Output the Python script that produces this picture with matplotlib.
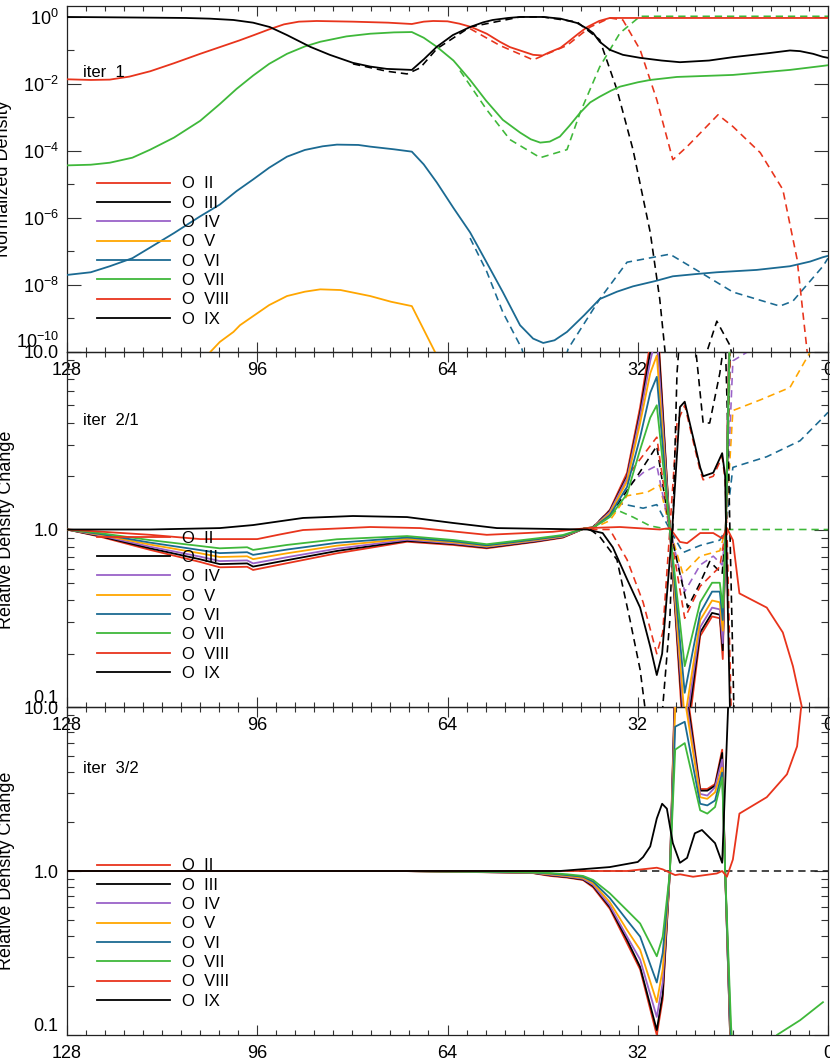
import numpy as np
import matplotlib
matplotlib.use("Agg")
import matplotlib.pyplot as plt
from matplotlib.lines import Line2D
from matplotlib.ticker import FixedLocator, MultipleLocator, LogLocator, NullFormatter

plt.rcParams['font.family'] = ['Liberation Sans', 'DejaVu Sans']
plt.rcParams['mathtext.fontset'] = 'custom'
plt.rcParams['mathtext.rm'] = 'Liberation Sans'
plt.rcParams['mathtext.it'] = 'Liberation Sans:italic'
plt.rcParams['mathtext.bf'] = 'Liberation Sans:bold'

# ---------------- legend / styling data ----------------
ion_labels = ['O  II', 'O  III', 'O  IV', 'O  V', 'O  VI', 'O  VII', 'O  VIII', 'O  IX']
RED, BLK, PUR, ORA, BLU, GRN = '#e8341c', '#000000', '#9a62c8', '#ffa600', '#1b6a92', '#3fb83a'
ion_colors = [RED, BLK, PUR, ORA, BLU, GRN, RED, BLK]

x_major = [128, 96, 64, 32, 0]

# ---------------- Panel 1 : iter 1, normalized density (log10 values) ----------------
p1_ix_x = [128.0, 120.8, 114.0, 108.0, 104.0, 100.0, 96.7, 93.9, 91.0, 87.1, 83.8, 79.9, 77.0, 74.2,
           70.0, 67.9, 65.8, 63.1, 60.2, 58.0, 56.4, 53.8, 51.8, 47.9, 45.0, 42.2, 40.5, 39.5, 38.4,
           36.7, 34.5, 31.6, 28.0, 24.9, 20.0, 16.0, 10.0, 6.4, 4.7, 2.5, 0.85, 0.0]
p1_ix_log = [0.0, -0.01, -0.02, -0.03, -0.05, -0.09, -0.17, -0.3, -0.54, -0.89, -1.13, -1.37, -1.48,
             -1.55, -1.58, -1.25, -0.89, -0.54, -0.3, -0.16, -0.09, -0.03, 0.0, 0.0, -0.05, -0.18,
             -0.35, -0.48, -0.74, -0.98, -1.13, -1.22, -1.3, -1.35, -1.3, -1.2, -1.08, -1.0, -1.02,
             -1.1, -1.19, -1.22]

p1_viii_x = [128.0, 124.0, 120.8, 117.5, 114.0, 110.0, 105.6, 102.3, 99.0, 96.7, 94.0, 91.5, 89.0,
             86.0, 79.9, 74.0, 70.0, 68.0, 66.4, 64.0, 62.0, 60.0, 57.4, 55.2, 53.5, 51.8, 49.6,
             48.0, 46.8, 45.0, 43.9, 42.0, 40.5, 38.5, 36.7, 32.8, 0.0]
p1_viii_log = [-1.86, -1.88, -1.87, -1.78, -1.62, -1.38, -1.1, -0.9, -0.7, -0.55, -0.37, -0.22, -0.14,
               -0.12, -0.14, -0.17, -0.21, -0.14, -0.12, -0.13, -0.2, -0.3, -0.5, -0.74, -0.9, -1.0,
               -1.13, -1.15, -1.05, -0.92, -0.77, -0.5, -0.3, -0.12, -0.03, -0.03, -0.03]

p1_vii_x = [128.0, 124.0, 120.8, 117.0, 114.0, 110.0, 105.6, 102.3, 99.5, 96.7, 94.0, 91.0, 88.0,
            85.4, 81.0, 77.0, 73.0, 70.0, 68.0, 65.8, 63.0, 60.2, 57.5, 54.7, 51.8, 50.0, 48.4,
            46.8, 45.1, 43.5, 41.7, 40.0, 38.4, 36.5, 35.0, 32.0, 29.9, 25.4, 16.0, 6.4, 0.85, 0.0]
p1_vii_log = [-4.43, -4.41, -4.35, -4.2, -3.96, -3.6, -3.1, -2.6, -2.15, -1.75, -1.4, -1.1, -0.88,
              -0.74, -0.58, -0.5, -0.46, -0.45, -0.62, -0.89, -1.3, -1.88, -2.5, -3.07, -3.45, -3.65,
              -3.75, -3.72, -3.57, -3.25, -2.86, -2.55, -2.38, -2.2, -2.08, -1.95, -1.88, -1.79,
              -1.73, -1.58, -1.46, -1.44]

p1_vi_x = [128.0, 124.0, 120.8, 117.0, 114.0, 110.0, 105.6, 102.3, 99.5, 96.7, 94.0, 91.0, 88.0,
           85.0, 82.6, 79.0, 77.0, 73.0, 70.0, 68.0, 65.8, 63.0, 60.2, 57.5, 54.7, 51.8, 49.6, 47.9,
           46.0, 43.9, 41.0, 38.4, 35.5, 32.8, 29.0, 26.1, 22.0, 18.7, 12.0, 6.4, 3.0, 0.85, 0.0]
p1_vi_log = [-7.7, -7.62, -7.44, -7.2, -6.88, -6.45, -5.95, -5.6, -5.2, -4.85, -4.5, -4.17, -3.97,
             -3.86, -3.81, -3.82, -3.87, -3.95, -4.02, -4.4, -4.94, -5.7, -6.43, -7.3, -8.21, -9.2,
             -9.6, -9.73, -9.65, -9.4, -8.9, -8.42, -8.2, -8.04, -7.88, -7.74, -7.67, -7.62, -7.55,
             -7.44, -7.3, -7.17, -7.13]

p1_v_x = [107.3, 103.9, 102.3, 100.0, 98.9, 96.7, 94.0, 91.0, 88.0, 85.4, 82.0, 77.0, 73.5, 70.0,
          66.1, 64.4]
p1_v_log = [-10.8, -10.0, -9.7, -9.4, -9.2, -8.93, -8.6, -8.33, -8.2, -8.13, -8.15, -8.33, -8.5,
            -8.63, -10.0, -10.6]

# dashed (comparison) curves in panel 1
p1_ix_d_x = [79.9, 74.2, 70.8, 68.6, 65.8, 60.2, 51.8, 47.9, 42.2, 38.4, 35.5, 32.8, 29.9, 28.3,
             27.4, 26.9, 21.5, 20.2, 18.7, 16.5, 15.5]
p1_ix_d_log = [-1.40, -1.62, -1.70, -1.52, -0.95, -0.3, 0.0, 0.0, -0.15, -0.68, -2.17, -3.96, -6.43,
               -8.42, -10.0, -11.0, -10.5, -9.9, -9.08, -9.8, -10.6]

p1_viii_d_x = [60.2, 55.2, 49.6, 43.9, 40.0, 36.7, 34.5, 31.6, 28.8, 26.1, 23.7, 18.5, 16.0, 11.4,
               7.6, 5.2, 3.5, 3.0]
p1_viii_d_log = [-0.35, -0.85, -1.28, -0.85, -0.3, -0.03, -0.09, -0.98, -2.47, -4.26, -3.87, -2.92,
                 -3.27, -4.05, -5.15, -7.23, -10.0, -11.0]

p1_vii_d_x = [61.9, 57.4, 53.5, 48.4, 43.9, 41.7, 38.4, 35.0, 31.6, 0.0]
p1_vii_d_log = [-1.6, -2.77, -3.66, -4.2, -3.96, -2.86, -1.49, -0.48, 0.02, 0.02]

p1_vi_d_x = [60.2, 57.4, 54.7, 51.5, 50.1, 45.1, 43.7, 38.4, 33.8, 26.6, 21.5, 16.0, 8.1, 5.9, 0.85, 0.0]
p1_vi_d_log = [-6.6, -7.6, -8.81, -9.9, -10.8, -10.8, -9.9, -8.42, -7.32, -7.08, -7.62, -8.21, -8.63,
               -8.48, -7.44, -7.2]

# ---------------- Panel 2 : iter 2 / iter 1 (log10 ratio) ----------------
p2_x = [128.0, 122.5, 114.0, 105.6, 102.3, 97.7, 96.7, 91.0, 82.6, 70.8, 63.1, 57.4, 49.0, 44.6,
        40.9, 39.5, 36.7, 33.8, 31.6, 29.9, 28.8, 26.6, 24.1, 21.5, 19.5, 18.2, 17.7, 17.2, 16.5, 15.5]
p2_ii_log = [0, -0.04, -0.115, -0.183, -0.213, -0.210, -0.228, -0.190, -0.134, -0.069, -0.087, -0.106,
             -0.069, -0.046, 0.007, 0.012, 0.11, 0.32, 0.69, 1.05, 1.25, 0.0, -1.3, -0.60, -0.49, -0.50,
             -0.73, 0.0, 1.3, 1.6]
p2_iii_log = [0, -0.037, -0.106, -0.168, -0.195, -0.191, -0.209, -0.173, -0.121, -0.064, -0.082, -0.102,
              -0.066, -0.043, 0.007, 0.012, 0.105, 0.30, 0.66, 1.0, 1.2, 0.0, -1.22, -0.58, -0.47, -0.48,
              -0.68, 0.0, 1.25, 1.5]
p2_iv_log = [0, -0.033, -0.097, -0.153, -0.178, -0.174, -0.191, -0.156, -0.108, -0.058, -0.078, -0.098,
             -0.063, -0.041, 0.007, 0.011, 0.10, 0.29, 0.64, 0.95, 1.1, 0.0, -1.15, -0.55, -0.44, -0.45,
             -0.64, 0.0, 1.25, 1.5]
p2_v_log = [0, -0.029, -0.085, -0.134, -0.155, -0.151, -0.167, -0.134, -0.091, -0.052, -0.072, -0.094,
            -0.059, -0.038, 0.007, 0.011, 0.09, 0.27, 0.60, 0.88, 0.98, 0.0, -1.07, -0.51, -0.40, -0.41,
            -0.57, 0.0, 1.2, 1.5]
p2_vi_log = [0, -0.025, -0.074, -0.116, -0.133, -0.128, -0.143, -0.113, -0.075, -0.045, -0.066, -0.089,
             -0.055, -0.035, 0.007, 0.01, 0.08, 0.24, 0.52, 0.77, 0.86, 0.0, -0.92, -0.47, -0.35, -0.35,
             -0.51, 0.0, 1.15, 1.5]
p2_vii_log = [0, -0.02, -0.06, -0.093, -0.106, -0.100, -0.115, -0.087, -0.055, -0.037, -0.059, -0.083,
              -0.050, -0.031, 0.007, 0.01, 0.07, 0.20, 0.45, 0.63, 0.70, 0.0, -0.77, -0.41, -0.30, -0.30,
              -0.44, 0.0, 1.1, 1.5]

p2_viii_x = [128.0, 114.0, 105.6, 96.0, 92.2, 88.3, 77.0, 68.6, 57.4, 46.3, 40.5, 35.0, 28.3, 26.6,
             24.9, 23.7, 21.5, 19.3, 17.8, 17.0, 16.0, 14.9, 10.3, 7.6, 5.9, 4.4, 3.7]
p2_viii_log = [0.0, -0.03, -0.054, -0.054, -0.028, -0.003, 0.014, 0.008, -0.03, -0.013, 0.008, 0.014,
               0.0, 0.008, -0.07, -0.077, -0.02, -0.02, -0.05, 0.008, -0.06, -0.36, -0.44, -0.58,
               -0.77, -1.0, -1.2]

p2_ix_x = [128.0, 114.0, 102.3, 96.7, 88.3, 79.9, 70.8, 63.1, 55.7, 46.3, 40.5, 37.9, 36.2, 33.8,
           31.6, 29.9, 28.8, 27.9, 26.2, 24.9, 24.1, 21.5, 21.0, 19.3, 17.8, 17.3, 17.2, 16.5, 16.0]
p2_ix_log = [0.0, 0.0, 0.008, 0.025, 0.065, 0.076, 0.07, 0.037, 0.008, 0.003, 0.0, -0.02, -0.10, -0.28,
             -0.44, -0.66, -0.82, -0.70, 0.0, 0.69, 0.72, 0.35, 0.30, 0.32, 0.43, 0.30, 0.1, -1.0, -1.4]

# dashed (comparison) curves in panel 2
p2_ii_d_x = [40.0, 36.7, 33.3, 28.8, 26.6, 24.1, 21.5, 18.2, 17.2, 16.3]
p2_ii_d_log = [0.0, 0.09, 0.32, 0.52, 0.0, -0.5, -0.32, -0.21, 0.0, 1.2]
p2_iii_d_x = [40.0, 36.7, 32.1, 28.8, 26.6, 23.6, 21.5, 19.9, 17.8, 17.2, 16.3]
p2_iii_d_log = [0.0, 0.08, 0.30, 0.47, 0.0, -0.44, -0.30, -0.18, -0.25, 0.0, 1.2]
p2_iv_d_x = [40.0, 36.7, 33.8, 31.1, 28.8, 26.6, 24.1, 21.5, 19.3, 17.8, 17.2, 16.0, 12.6]
p2_iv_d_log = [0.0, 0.07, 0.24, 0.32, 0.36, 0.0, -0.35, -0.2, -0.15, -0.2, 0.0, 0.95, 1.02]
p2_v_d_x = [40.0, 36.7, 33.8, 30.4, 28.3, 26.6, 24.4, 21.5, 18.2, 17.2, 16.0, 11.4, 6.4, 3.0, 2.0]
p2_v_d_log = [0.0, 0.05, 0.19, 0.21, 0.25, 0.0, -0.25, -0.15, -0.12, 0.0, 0.67, 0.73, 0.80, 1.0, 1.08]
p2_vi_d_x = [40.0, 35.5, 31.1, 28.8, 26.6, 24.4, 21.5, 18.2, 17.2, 16.0, 10.3, 4.7, 0.85, 0.0]
p2_vi_d_log = [0.0, 0.15, 0.12, 0.14, 0.0, -0.13, -0.09, -0.06, 0.0, 0.35, 0.41, 0.50, 0.63, 0.66]
p2_vii_d_x = [40.0, 35.5, 32.8, 29.9, 26.6, 0.0]
p2_vii_d_log = [0.0, 0.11, 0.07, 0.02, 0.0, 0.0]
p2_viii_d_x = [40.0, 36.7, 33.8, 31.1, 28.8, 27.8, 26.6, 25.4, 24.1, 21.5, 21.0, 19.3, 17.8, 17.3,
               17.0, 16.3]
p2_viii_d_log = [0.0, 0.0, -0.17, -0.41, -0.70, -0.58, 0.0, 0.6, 0.70, 0.33, 0.28, 0.30, 0.41, 0.28,
                 0.0, -1.0]
p2_ix_d_x = [40.0, 38.4, 35.5, 33.3, 31.6, 30.8, 29.0, 27.8, 26.6, 26.1, 25.4, 24.9, 23.2, 22.2,
             21.0, 19.9, 18.2, 17.7, 17.3, 16.8, 16.5, 15.7]
p2_ix_d_log = [0.0, -0.04, -0.17, -0.51, -0.79, -1.0, -1.3, -1.0, -0.51, 0.0, 0.88, 1.1, 1.2, 1.0,
               0.6, 0.6, 0.88, 1.0, 1.1, 0.5, 0.0, -1.2]

# ---------------- Panel 3 : iter 3 / iter 2 (log10 ratio) ----------------
p3_x = [128.0, 96.0, 80.0, 72.0, 61.9, 55.2, 49.6, 46.8, 43.9, 41.2, 39.5, 36.7, 33.8, 31.6, 28.8,
        27.8, 26.6, 25.7, 24.1, 21.5, 20.3, 19.0, 17.8, 17.3, 16.3, 15.0]
p3_ii_log = [0, 0, 0, 0, -0.005, -0.009, -0.013, -0.03, -0.04, -0.055, -0.1, -0.23, -0.44, -0.60, -1.0,
             -0.78, -0.01, 1.2, 1.2, 0.50, 0.50, 0.53, 0.74, 0.0, -1.2, -1.5]
p3_iii_log = [0, 0, 0, 0, -0.005, -0.008, -0.012, -0.026, -0.037, -0.052, -0.092, -0.22, -0.42, -0.585,
              -0.97, -0.75, -0.01, 1.15, 1.15, 0.49, 0.49, 0.52, 0.72, 0.0, -1.2, -1.5]
p3_iv_log = [0, 0, 0, 0, -0.004, -0.008, -0.011, -0.023, -0.034, -0.048, -0.085, -0.21, -0.40, -0.54,
             -0.89, -0.68, -0.01, 1.1, 1.1, 0.47, 0.46, 0.51, 0.68, 0.0, -1.15, -1.5]
p3_v_log = [0, 0, 0, 0, -0.004, -0.007, -0.010, -0.019, -0.030, -0.042, -0.075, -0.19, -0.36, -0.48,
            -0.80, -0.60, -0.01, 1.0, 1.05, 0.45, 0.44, 0.48, 0.63, 0.0, -1.1, -1.5]
p3_vi_log = [0, 0, 0, 0, -0.003, -0.006, -0.009, -0.015, -0.025, -0.035, -0.065, -0.165, -0.30, -0.40,
             -0.68, -0.50, -0.01, 0.88, 0.91, 0.41, 0.40, 0.43, 0.60, 0.0, -1.05, -1.5]

p3_vii_x = [128.0, 96.0, 80.0, 72.0, 61.9, 55.2, 49.6, 46.8, 43.9, 41.2, 39.5, 36.7, 33.8, 31.6, 28.8,
            27.8, 26.6, 25.7, 24.1, 21.5, 20.3, 19.0, 17.8, 17.3, 16.3, 15.0, 12.0, 8.6, 4.7, 0.85]
p3_vii_log = [0, 0, 0, 0, -0.003, -0.005, -0.008, -0.012, -0.02, -0.03, -0.055, -0.136, -0.24, -0.32,
              -0.52, -0.40, -0.01, 0.74, 0.78, 0.37, 0.35, 0.39, 0.57, 0.0, -0.95, -1.5, -1.6, -1.0,
              -0.91, -0.80]

p3_viii_x = [128.0, 72.0, 33.8, 28.8, 27.8, 26.6, 25.7, 24.9, 22.7, 18.7, 17.8, 17.0, 16.0, 14.9,
             10.3, 6.9, 5.2, 4.4]
p3_viii_log = [0.0, 0.0, 0.0, 0.02, 0.01, -0.01, -0.025, -0.02, -0.035, -0.015, 0.0, -0.035, 0.07,
               0.35, 0.45, 0.59, 0.76, 1.04]

p3_ix_x = [128.0, 72.0, 45.1, 36.7, 32.0, 31.1, 29.9, 28.8, 27.9, 27.1, 26.1, 24.9, 23.7, 22.4, 21.2,
           19.0, 17.8, 16.8, 16.3]
p3_ix_log = [0.0, 0.0, 0.0, 0.024, 0.055, 0.085, 0.15, 0.32, 0.41, 0.38, 0.17, 0.05, 0.08, 0.23, 0.25,
             0.17, 0.05, 1.0, 1.3]

p3_ref_d_x = [128.0, 0.0]
p3_ref_d_log = [0.0, 0.0]

# ---------------- figure ----------------
W, H = 830, 1060
fig = plt.figure(figsize=(W / 100, H / 100), dpi=100)
fig.patch.set_facecolor('white')

L = 67 / W
AW = (828 - 67) / W


def box(top_px, bot_px):
    return [L, 1 - bot_px / H, AW, (bot_px - top_px) / H]


ax1 = fig.add_axes(box(6, 352))
ax2 = fig.add_axes(box(352, 707))
ax3 = fig.add_axes(box(707, 1035))
for a in (ax1, ax2, ax3):
    a.patch.set_alpha(0.0)

LW = 1.3
DASH = (4.5, 3.0)


def line(ax, x, lg, color, dashed=False):
    y = 10.0 ** np.asarray(lg, dtype=float)
    if dashed:
        ax.plot(x, y, color=color, lw=LW * 0.9, dashes=DASH, zorder=2)
    else:
        ax.plot(x, y, color=color, lw=LW, zorder=3)


def style(ax):
    ax.set_xlim(128, 0)
    ax.set_xticks(x_major)
    ax.set_xticklabels([str(v) for v in x_major])
    ax.xaxis.set_minor_locator(MultipleLocator(3.2))
    ax.tick_params(axis='both', which='both', direction='in', top=True, right=True,
                   labelsize=13, width=0.8, colors='#333333', labelcolor='black')
    ax.tick_params(axis='x', which='major', length=7.2, pad=7)
    ax.tick_params(axis='x', which='minor', length=3.6)
    ax.tick_params(axis='y', which='major', length=10, pad=6)
    ax.tick_params(axis='y', which='minor', length=5)
    for s in ax.spines.values():
        s.set_linewidth(0.9)
        s.set_color('#222222')


def legend(ax, ytop):
    handles = [Line2D([], [], color=c, lw=LW) for c in ion_colors]
    ax.legend(handles, ion_labels, loc='upper left', bbox_to_anchor=(30 / 761, ytop),
              frameon=False, fontsize=12, handlelength=4.38, handletextpad=0.72,
              labelspacing=0.26, borderpad=0, borderaxespad=0)


# ---- panel 1
ax1.set_yscale('log')
line(ax1, p1_vi_d_x, p1_vi_d_log, BLU, True)
line(ax1, p1_vii_d_x, p1_vii_d_log, GRN, True)
line(ax1, p1_viii_d_x, p1_viii_d_log, RED, True)
line(ax1, p1_ix_d_x, p1_ix_d_log, BLK, True)
line(ax1, p1_v_x, p1_v_log, ORA)
line(ax1, p1_vi_x, p1_vi_log, BLU)
line(ax1, p1_vii_x, p1_vii_log, GRN)
line(ax1, p1_viii_x, p1_viii_log, RED)
line(ax1, p1_ix_x, p1_ix_log, BLK)
ax1.set_ylim(1e-10, 10 ** (11 / 33.6))
style(ax1)
dec = [1e-10, 1e-8, 1e-6, 1e-4, 1e-2, 1e0]
ax1.yaxis.set_major_locator(FixedLocator(dec))
ax1.set_yticklabels([r'$10^{-10}$', r'$10^{-8}$', r'$10^{-6}$', r'$10^{-4}$', r'$10^{-2}$', r'$10^{0}$'])
ax1.yaxis.set_minor_locator(FixedLocator([1e-9, 1e-7, 1e-5, 1e-3, 1e-1]))
ax1.yaxis.set_minor_formatter(NullFormatter())
ax1.yaxis.get_major_ticks()[0].label1.set_verticalalignment('bottom')
legend(ax1, (352 - 176.5) / 346)
ax1.text(16 / 761, 0.795, 'iter  1', transform=ax1.transAxes, fontsize=12, va='baseline')

# ---- panel 2
ax2.set_yscale('log')
for dx, dl, c in [(p2_vii_d_x, p2_vii_d_log, GRN), (p2_vi_d_x, p2_vi_d_log, BLU),
                  (p2_v_d_x, p2_v_d_log, ORA), (p2_iv_d_x, p2_iv_d_log, PUR),
                  (p2_iii_d_x, p2_iii_d_log, BLK), (p2_ii_d_x, p2_ii_d_log, RED),
                  (p2_viii_d_x, p2_viii_d_log, RED), (p2_ix_d_x, p2_ix_d_log, BLK)]:
    line(ax2, dx, dl, c, True)
for lg, c in [(p2_ii_log, RED), (p2_iii_log, BLK), (p2_iv_log, PUR), (p2_v_log, ORA),
              (p2_vi_log, BLU), (p2_vii_log, GRN)]:
    line(ax2, p2_x, lg, c)
line(ax2, p2_viii_x, p2_viii_log, RED)
line(ax2, p2_ix_x, p2_ix_log, BLK)

# ---- panel 3
ax3.set_yscale('log')
line(ax3, p3_ref_d_x, p3_ref_d_log, '#222222', True)
for lg, c in [(p3_ii_log, RED), (p3_iii_log, BLK), (p3_iv_log, PUR), (p3_v_log, ORA),
              (p3_vi_log, BLU)]:
    line(ax3, p3_x, lg, c)
line(ax3, p3_vii_x, p3_vii_log, GRN)
line(ax3, p3_viii_x, p3_viii_log, RED)
line(ax3, p3_ix_x, p3_ix_log, BLK)

for a, ytop, ty, tt in [(ax2, (707 - 530.6) / 355, 0.794, 'iter  2/1'),
                        (ax3, (1035 - 858.5) / 328, 0.799, 'iter  3/2')]:
    a.set_ylim(0.1, 10)
    style(a)
    a.yaxis.set_major_locator(FixedLocator([0.1, 1.0, 10.0]))
    a.set_yticklabels(['0.1', '1.0', '10.0'])
    a.yaxis.set_minor_locator(LogLocator(base=10, subs=np.arange(2, 10)))
    a.yaxis.set_minor_formatter(NullFormatter())
    a.yaxis.get_major_ticks()[0].label1.set_verticalalignment('bottom')
    legend(a, ytop)
    a.text(16 / 761, ty, tt, transform=a.transAxes, fontsize=12, va='baseline')

fig.text(4 / W, 1 - 179 / H, 'Normalized Density', rotation=90, ha='center', va='center', fontsize=13)
fig.text(7 / W, 1 - 529.5 / H, 'Relative Density Change', rotation=90, ha='center', va='center', fontsize=13)
fig.text(7 / W, 1 - 871 / H, 'Relative Density Change', rotation=90, ha='center', va='center', fontsize=13)

fig.savefig('out.png', dpi=100)
